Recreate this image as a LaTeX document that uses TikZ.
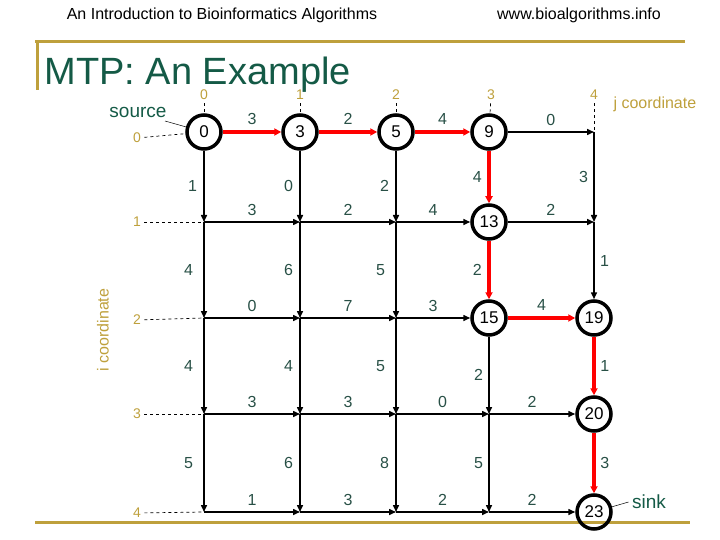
\documentclass[tikz,border=0pt]{standalone}
\usepackage{fontspec}
\setmainfont{Liberation Sans}
\usetikzlibrary{arrows.meta}
\definecolor{gold}{RGB}{190,160,60}
\definecolor{slate}{RGB}{40,80,70}
\definecolor{titlegreen}{RGB}{20,90,70}
\tikzset{
 circ/.style={circle,draw,line width=3.5pt,minimum size=34pt,inner sep=0pt,font=\fontsize{17}{17}\selectfont},
 edge/.style={line width=1.5pt,-{Triangle[length=7pt,width=6pt]}},
 redge/.style={line width=4pt,red,-{Triangle[length=7pt,width=7pt]}},
 wl/.style={text=slate,font=\fontsize{16}{16}\selectfont},
 coord/.style={text=gold,font=\fontsize{14}{14}\selectfont},
 dashl/.style={dashed,line width=0.7pt}
}
\begin{document}
\begin{tikzpicture}[x=1pt,y=-1pt]
\useasboundingbox (0,0) rectangle (720,540);
\node[font=\fontsize{16}{16}\selectfont] (h1) at (222,15) {An Introduction to Bioinformatics Algorithms};
\node[font=\fontsize{16}{16}\selectfont] (h2) at (579,15) {www.bioalgorithms.info};
\draw[gold,line width=3pt] (35,42) -- (685,42);
\draw[gold,line width=3pt] (37,42) -- (37,90);
\draw[gold,line width=3pt] (35,522) -- (690,522);
\node[anchor=west,text=titlegreen,font=\fontsize{38}{38}\selectfont] (title) at (41,75) {MTP: An Example};
\def\xs{{204,300,396,489,594}}
\def\ys{{132,222,318,414,512}}
\foreach \i in {0,...,4}{\foreach \j in {0,...,4}{
  \pgfmathsetmacro\px{\xs[\j]}\pgfmathsetmacro\py{\ys[\i]}
  \coordinate (p\i\j) at (\px,\py);}}
\node[circ] (c00) at (p00) {0};
\node[circ] (c01) at (p01) {3};
\node[circ] (c02) at (p02) {5};
\node[circ] (c03) at (p03) {9};
\node[circ] (c13) at (p13) {13};
\node[circ] (c23) at (p23) {15};
\node[circ] (c24) at (p24) {19};
\node[circ] (c34) at (p34) {20};
\node[circ] (c44) at (p44) {23};
% horizontal edges
\draw[redge] (c00) -- node[wl,above=2pt]{3} (c01);
\draw[redge] (c01) -- node[wl,above=2pt]{2} (c02);
\draw[redge] (c02) -- node[wl,above=2pt]{4} (c03);
\draw[edge] (c03) -- node[wl,above=2pt]{0} (p04);
\draw[edge] (p10) -- node[wl,above=2pt]{3} (p11);
\draw[edge] (p11) -- node[wl,above=2pt]{2} (p12);
\draw[edge] (p12) -- node[wl,above=2pt]{4} (c13);
\draw[edge] (c13) -- node[wl,above=2pt]{2} (p14);
\draw[edge] (p20) -- node[wl,above=2pt]{0} (p21);
\draw[edge] (p21) -- node[wl,above=2pt]{7} (p22);
\draw[edge] (p22) -- node[wl,above=2pt]{3} (c23);
\draw[redge] (c23) -- node[wl,above=2pt]{4} (c24);
\draw[edge] (p30) -- node[wl,above=2pt]{3} (p31);
\draw[edge] (p31) -- node[wl,above=2pt]{3} (p32);
\draw[edge] (p32) -- node[wl,above=2pt]{0} (p33);
\draw[edge] (p33) -- node[wl,above=2pt]{2} (c34);
\draw[edge] (p40) -- node[wl,above=2pt]{1} (p41);
\draw[edge] (p41) -- node[wl,above=2pt]{3} (p42);
\draw[edge] (p42) -- node[wl,above=2pt]{2} (p43);
\draw[edge] (p43) -- node[wl,above=2pt]{2} (c44);
% vertical edges
\draw[edge] (c00) -- node[wl,left=3pt]{1} (p10);
\draw[edge] (p10) -- node[wl,left=7pt]{4} (p20);
\draw[edge] (p20) -- node[wl,left=7pt]{4} (p30);
\draw[edge] (p30) -- node[wl,left=7pt]{5} (p40);
\draw[edge] (c01) -- node[wl,left=3pt]{0} (p11);
\draw[edge] (p11) -- node[wl,left=3pt]{6} (p21);
\draw[edge] (p21) -- node[wl,left=3pt]{4} (p31);
\draw[edge] (p31) -- node[wl,left=3pt]{6} (p41);
\draw[edge] (c02) -- node[wl,left=3pt]{2} (p12);
\draw[edge] (p12) -- node[wl,left=7pt]{5} (p22);
\draw[edge] (p22) -- node[wl,left=7pt]{5} (p32);
\draw[edge] (p32) -- node[wl,left=3pt]{8} (p42);
\draw[redge] (c03) -- node[wl,left=2pt]{4} (c13);
\draw[redge] (c13) -- node[wl,left=2pt]{2} (c23);
\draw[edge] (c23) -- node[wl,left=2pt]{2} (p33);
\draw[edge] (p33) -- node[wl,left=2pt]{5} (p43);
\draw[edge] (p04) -- node[wl,left=2pt]{3} (p14);
\draw[edge] (p14) -- node[wl,right=2pt]{1} (c24);
\draw[redge] (c24) -- node[wl,right=1pt]{1} (c34);
\draw[redge] (c34) -- node[wl,right=1pt]{3} (c44);
% j coordinates
\node[coord] (j0) at (204,95) {0};
\node[coord] (j1) at (300,95) {1};
\node[coord] (j2) at (396,95) {2};
\node[coord] (j3) at (491,95) {3};
\node[coord] (j4) at (594,95) {4};
\draw[dashl] (j0) -- (c00); \draw[dashl] (j1) -- (c01); \draw[dashl] (j2) -- (c02);
\draw[dashl] (j3) -- (c03); \draw[dashl] (j4) -- (p04);
\node[coord,anchor=west,font=\fontsize{16}{16}\selectfont] (jc) at (610,104) {j coordinate};
% i coordinates
\node[coord] (i0) at (137,138) {0};
\node[coord] (i1) at (137,222) {1};
\node[coord] (i2) at (137,320) {2};
\node[coord] (i3) at (137,414) {3};
\node[coord] (i4) at (137,513) {4};
\draw[dashl] (i0) -- (c00); \draw[dashl] (i1) -- (p10); \draw[dashl] (i2) -- (p20);
\draw[dashl] (i3) -- (p30); \draw[dashl] (i4) -- (p40);
\node[coord,rotate=90,font=\fontsize{16}{16}\selectfont] (ic) at (103,330) {i coordinate};
\node[text=titlegreen,font=\fontsize{19}{19}\selectfont] (src) at (138,112) {source};
\draw[line width=0.5pt] (165,121) -- (c00);
\node[text=titlegreen,font=\fontsize{19}{19}\selectfont] (snk) at (649,502) {sink};
\draw[line width=0.5pt] (snk.west) -- (c44);
\end{tikzpicture}
\end{document}
